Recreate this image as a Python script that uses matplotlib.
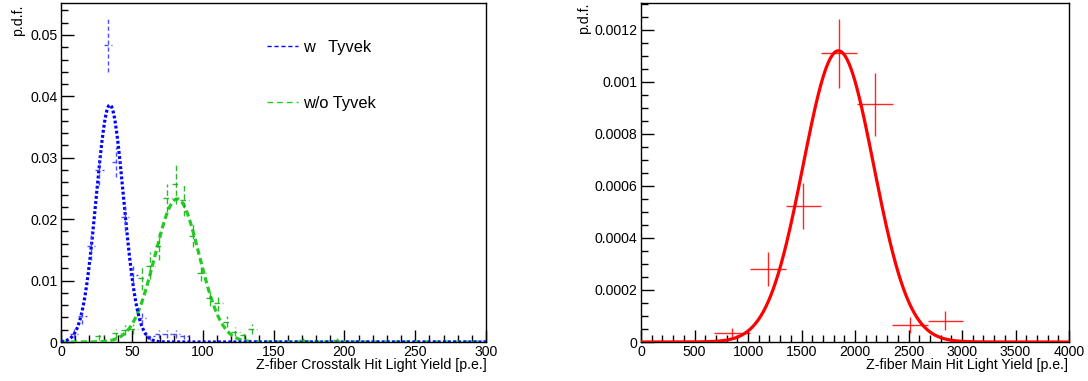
import numpy as np
import matplotlib
matplotlib.use("Agg")
import matplotlib.pyplot as plt
from matplotlib.ticker import MultipleLocator, FuncFormatter
from matplotlib.lines import Line2D

# Crosstalk light yield histograms (bin width 6 p.e.)
with_tyvek_x = [9, 15, 21, 27, 33, 39, 45, 51, 57, 63, 69, 75, 81, 87]
with_tyvek_y = [0.0013, 0.0042, 0.0157, 0.0280, 0.0483, 0.0293, 0.0203,
                0.0109, 0.0039, 0.0009, 0.0013, 0.0013, 0.0013, 0.0010]
with_tyvek_err = [0.0008, 0.0012, 0.0024, 0.0025, 0.0043, 0.0025, 0.0022,
                  0.0015, 0.0009, 0.0005, 0.0006, 0.0006, 0.0006, 0.0005]

without_tyvek_x = [27, 39, 45, 51, 57, 63, 69, 75, 81, 87, 93, 99, 105,
                   111, 117, 123, 129, 135, 171, 195]
without_tyvek_y = [0.0010, 0.0014, 0.0019, 0.0021, 0.0104, 0.0124, 0.0156,
                   0.0235, 0.0257, 0.0232, 0.0173, 0.0112, 0.0071, 0.0063,
                   0.0033, 0.0017, 0.0011, 0.0021, 0.0003, 0.0003]
without_tyvek_err = [0.0006, 0.0007, 0.0008, 0.0008, 0.0019, 0.0022, 0.0022,
                     0.0023, 0.0033, 0.0027, 0.0019, 0.0013, 0.0012, 0.0012,
                     0.0009, 0.0007, 0.0006, 0.0008, 0.0003, 0.0003]
crosstalk_half_bin = 3.0

# Main hit light yield histogram
main_x = [852, 1190, 1518, 1852, 2186, 2513, 2845]
main_y = [0.000035, 0.000281, 0.000523, 0.00111, 0.000914, 0.0000654, 0.0000819]
main_err = [0.00002, 0.000067, 0.00009, 0.000133, 0.000122, 0.00003, 0.000036]
main_half_bin = 167.0

# Gaussian fit parameters (amplitude, mean, sigma)
fit_with_tyvek = (0.0386, 34.5, 9.7)
fit_without_tyvek = (0.0233, 82.0, 15.6)
fit_main = (0.00112, 1845.0, 330.0)


def gauss(x, amp, mean, sigma):
    return amp * np.exp(-0.5 * ((x - mean) / sigma) ** 2)


plt.rcParams['font.family'] = ['Liberation Sans', 'DejaVu Sans']
TICK_FS = 10.2
LABEL_FS = 10.2

W, H = 1088, 381
fig = plt.figure(figsize=(W / 100, H / 100), dpi=100)

ax1 = fig.add_axes([61 / W, 1 - 342 / H, (486 - 61) / W, (342 - 3) / H])
ax2 = fig.add_axes([641 / W, 1 - 342 / H, (1069 - 641) / W, (342 - 3) / H])


def style_axis(ax):
    for s in ax.spines.values():
        s.set_linewidth(1.0)
        s.set_color('black')
    ax.tick_params(which='both', direction='in', top=False, right=False,
                   labelsize=TICK_FS, pad=2.5, color='black', width=1.0)
    ax.tick_params(which='major', length=9)
    ax.tick_params(which='minor', length=5)


def fmt_plain(v, pos):
    if abs(v) < 1e-12:
        return '0'
    return ('%.6f' % v).rstrip('0').rstrip('.')


# ---- left panel: crosstalk ----
blue = '#0000ff'
green = '#22cc22'
xs = np.linspace(0, 300, 1500)
ax1.plot(xs, gauss(xs, *fit_with_tyvek), color=blue, lw=2.3,
         ls=(0, (0.9, 0.7)), zorder=4, solid_capstyle='butt')
ax1.plot(xs, gauss(xs, *fit_without_tyvek), color=green, lw=2.3,
         ls=(0, (2.0, 1.1)), zorder=3)

eb = ax1.errorbar(with_tyvek_x, with_tyvek_y, yerr=with_tyvek_err,
                  xerr=crosstalk_half_bin, fmt='none', ecolor='#3a3aff',
                  elinewidth=1.0, alpha=0.9, zorder=5)
for lc in eb[2]:
    lc.set_linestyle((0, (3, 2)))
eb2 = ax1.errorbar(without_tyvek_x, without_tyvek_y, yerr=without_tyvek_err,
                   xerr=crosstalk_half_bin, fmt='none', ecolor='#18b018',
                   elinewidth=1.0, alpha=0.9, zorder=5)
for lc in eb2[2]:
    lc.set_linestyle((0, (4, 2)))

ax1.set_xlim(0, 300)
ax1.set_ylim(0, 0.0552)
ax1.xaxis.set_major_locator(MultipleLocator(50))
ax1.xaxis.set_minor_locator(MultipleLocator(10))
ax1.yaxis.set_major_locator(MultipleLocator(0.01))
ax1.yaxis.set_minor_locator(MultipleLocator(0.002))
ax1.yaxis.set_major_formatter(FuncFormatter(fmt_plain))
style_axis(ax1)

handles = [Line2D([], [], color=blue, lw=1.0, ls=(0, (3, 2))),
           Line2D([], [], color=green, lw=1.0, ls=(0, (4, 3)))]
ax1.legend(handles, ['w   Tyvek', 'w/o Tyvek'], loc='upper left',
           bbox_to_anchor=((267 - 61) / 425, (342 - 40) / 339),
           frameon=False, fontsize=11.8, handlelength=1.9, handletextpad=0.3,
           labelspacing=2.5, borderpad=0, borderaxespad=0)

fig.text(487 / W, 1 - 365 / H, 'Z-fiber Crosstalk Hit Light Yield [p.e.]',
         ha='right', va='center', fontsize=LABEL_FS)
fig.text(18 / W, 1 - 4 / H, 'p.d.f.', rotation=90, ha='center', va='top',
         fontsize=LABEL_FS)

# ---- right panel: main hit ----
red = '#ff0000'
xm = np.linspace(0, 4000, 2000)
ax2.plot(xm, gauss(xm, *fit_main), color=red, lw=2.3, zorder=3)
ax2.errorbar(main_x, main_y, yerr=main_err, xerr=main_half_bin, fmt='none',
             ecolor=red, elinewidth=1.0, alpha=0.85, zorder=4)
ax2.set_xlim(0, 4000)
ax2.set_ylim(0, 0.0013038)
ax2.xaxis.set_major_locator(MultipleLocator(500))
ax2.xaxis.set_minor_locator(MultipleLocator(100))
ax2.yaxis.set_major_locator(MultipleLocator(0.0002))
ax2.yaxis.set_minor_locator(MultipleLocator(0.00005))
ax2.yaxis.set_major_formatter(FuncFormatter(fmt_plain))
style_axis(ax2)

fig.text(1068 / W, 1 - 365 / H, 'Z-fiber Main Hit Light Yield [p.e.]',
         ha='right', va='center', fontsize=LABEL_FS)
fig.text(584 / W, 1 - 2 / H, 'p.d.f.', rotation=90, ha='center', va='top',
         fontsize=LABEL_FS)

fig.savefig('out.png', dpi=100)
